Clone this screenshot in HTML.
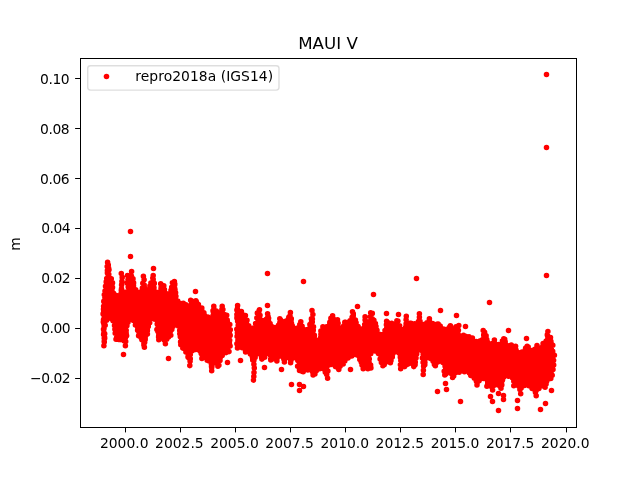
<!DOCTYPE html>
<html><head><meta charset="utf-8"><title>MAUI V</title>
<style>html,body{margin:0;padding:0;background:#fff;overflow:hidden}svg{display:block}</style></head>
<body>
<svg width="640" height="480" viewBox="0 0 640 480">
<rect width="640" height="480" fill="#fff"/>
<rect x="125.0" y="427" width="1" height="5.4" fill="#000"/>
<text x="124.25" y="447.5" font-size="13.889" text-anchor="middle" font-family="DejaVu Sans, Liberation Sans, sans-serif">2000.0</text>
<rect x="180.0" y="427" width="1" height="5.4" fill="#000"/>
<text x="179.38" y="447.5" font-size="13.889" text-anchor="middle" font-family="DejaVu Sans, Liberation Sans, sans-serif">2002.5</text>
<rect x="235.0" y="427" width="1" height="5.4" fill="#000"/>
<text x="234.51" y="447.5" font-size="13.889" text-anchor="middle" font-family="DejaVu Sans, Liberation Sans, sans-serif">2005.0</text>
<rect x="290.0" y="427" width="1" height="5.4" fill="#000"/>
<text x="289.64" y="447.5" font-size="13.889" text-anchor="middle" font-family="DejaVu Sans, Liberation Sans, sans-serif">2007.5</text>
<rect x="345.0" y="427" width="1" height="5.4" fill="#000"/>
<text x="344.77" y="447.5" font-size="13.889" text-anchor="middle" font-family="DejaVu Sans, Liberation Sans, sans-serif">2010.0</text>
<rect x="400.0" y="427" width="1" height="5.4" fill="#000"/>
<text x="399.90" y="447.5" font-size="13.889" text-anchor="middle" font-family="DejaVu Sans, Liberation Sans, sans-serif">2012.5</text>
<rect x="455.0" y="427" width="1" height="5.4" fill="#000"/>
<text x="455.03" y="447.5" font-size="13.889" text-anchor="middle" font-family="DejaVu Sans, Liberation Sans, sans-serif">2015.0</text>
<rect x="510.0" y="427" width="1" height="5.4" fill="#000"/>
<text x="510.16" y="447.5" font-size="13.889" text-anchor="middle" font-family="DejaVu Sans, Liberation Sans, sans-serif">2017.5</text>
<rect x="566.0" y="427" width="1" height="5.4" fill="#000"/>
<text x="565.29" y="447.5" font-size="13.889" text-anchor="middle" font-family="DejaVu Sans, Liberation Sans, sans-serif">2020.0</text>
<rect x="75.1" y="78.0" width="5.4" height="1" fill="#000"/>
<text x="69.20" y="84.10" font-size="13.889" letter-spacing="-0.45" text-anchor="end" font-family="DejaVu Sans, Liberation Sans, sans-serif">0.10</text>
<rect x="75.1" y="128.0" width="5.4" height="1" fill="#000"/>
<text x="69.20" y="134.10" font-size="13.889" letter-spacing="-0.45" text-anchor="end" font-family="DejaVu Sans, Liberation Sans, sans-serif">0.08</text>
<rect x="75.1" y="178.0" width="5.4" height="1" fill="#000"/>
<text x="69.20" y="184.10" font-size="13.889" letter-spacing="-0.45" text-anchor="end" font-family="DejaVu Sans, Liberation Sans, sans-serif">0.06</text>
<rect x="75.1" y="228.0" width="5.4" height="1" fill="#000"/>
<text x="70.25" y="233.10" font-size="13.889" letter-spacing="-0.45" text-anchor="end" font-family="DejaVu Sans, Liberation Sans, sans-serif">0.04</text>
<rect x="75.1" y="278.0" width="5.4" height="1" fill="#000"/>
<text x="70.25" y="283.10" font-size="13.889" letter-spacing="-0.45" text-anchor="end" font-family="DejaVu Sans, Liberation Sans, sans-serif">0.02</text>
<rect x="75.1" y="328.0" width="5.4" height="1" fill="#000"/>
<text x="70.25" y="333.10" font-size="13.889" letter-spacing="-0.45" text-anchor="end" font-family="DejaVu Sans, Liberation Sans, sans-serif">0.00</text>
<rect x="75.1" y="378.0" width="5.4" height="1" fill="#000"/>
<text x="70.25" y="383.10" font-size="13.889" letter-spacing="-0.45" text-anchor="end" font-family="DejaVu Sans, Liberation Sans, sans-serif">−0.02</text>
<text transform="translate(19.5,244.0) rotate(-90)" font-size="13.889" text-anchor="middle" font-family="DejaVu Sans, Liberation Sans, sans-serif">m</text>
<text x="328" y="49.3" font-size="16.667" text-anchor="middle" font-family="DejaVu Sans, Liberation Sans, sans-serif">MAUI V</text>
<g><path d="M105.5 301.7 L105.5 319.4 L108.0 317.2 L109.2 316.7 L110.9 316.7 L112.1 317.2 L113.1 317.9 L115.5 321.4 L116.2 323.5 L116.8 332.8 L117.3 337.7 L117.9 338.3 L122.6 339.4 L124.0 339.9 L125.1 332.7 L125.5 325.0 L126.7 320.4 L127.5 319.0 L128.5 318.2 L129.7 317.7 L131.0 317.6 L132.2 317.9 L134.9 319.2 L136.3 320.8 L138.6 328.5 L139.5 335.6 L140.4 337.4 L143.9 339.3 L145.3 335.7 L148.2 320.0 L148.8 318.9 L150.0 317.8 L151.6 317.3 L152.8 317.3 L154.0 317.6 L155.1 318.3 L156.9 319.9 L157.8 321.3 L160.3 336.5 L161.5 336.4 L162.7 336.6 L163.9 337.2 L164.7 338.1 L168.0 334.8 L170.0 333.4 L171.6 325.8 L172.8 324.0 L174.2 323.1 L175.9 322.8 L177.5 323.3 L178.9 324.3 L180.7 327.2 L181.2 328.7 L181.8 338.3 L182.7 344.2 L183.9 347.2 L185.9 348.5 L186.9 349.7 L188.2 354.1 L188.9 355.7 L189.4 352.4 L190.5 350.7 L193.4 348.1 L195.0 347.6 L196.6 347.8 L201.2 350.3 L201.9 351.2 L204.6 357.0 L206.0 357.1 L207.4 357.9 L208.3 358.8 L209.6 361.2 L211.2 362.1 L212.4 363.5 L213.6 362.4 L215.2 361.7 L216.8 361.7 L218.5 362.4 L219.0 356.9 L220.9 353.8 L221.7 352.9 L225.2 350.6 L227.4 350.1 L227.8 349.4 L229.5 332.2 L227.8 325.8 L227.3 322.1 L226.1 321.1 L225.2 319.7 L224.6 315.0 L224.2 314.5 L222.7 313.8 L221.9 313.2 L220.7 313.8 L219.1 314.0 L214.9 312.5 L214.5 316.5 L213.4 318.3 L212.5 319.1 L211.3 319.5 L210.1 319.6 L208.8 319.3 L205.8 317.7 L203.3 315.2 L201.1 310.2 L198.2 307.1 L196.9 303.4 L195.9 302.3 L194.0 302.0 L193.4 308.6 L192.8 310.2 L191.6 311.4 L190.0 312.0 L188.3 312.0 L187.1 311.6 L185.8 310.5 L185.2 309.4 L184.7 305.3 L181.7 305.1 L178.6 304.3 L177.2 303.5 L176.4 302.6 L175.8 301.0 L173.5 287.0 L172.1 292.7 L171.4 293.8 L170.1 294.8 L168.9 295.2 L167.2 295.1 L166.1 294.7 L165.1 293.9 L164.4 292.9 L163.1 290.2 L163.0 289.0 L163.2 286.6 L162.7 286.1 L162.0 290.9 L161.4 292.5 L159.8 293.8 L158.6 294.2 L157.4 294.2 L155.4 293.5 L154.1 291.9 L153.7 290.7 L152.5 284.1 L150.9 288.9 L150.3 289.9 L149.3 290.8 L147.8 291.4 L146.6 291.4 L145.0 291.0 L143.8 290.0 L143.4 291.7 L142.1 293.4 L140.6 294.1 L138.5 294.2 L137.4 293.7 L135.7 292.5 L134.4 291.0 L132.2 285.6 L131.6 279.6 L130.2 277.8 L129.9 290.5 L129.1 292.5 L127.5 293.9 L125.8 294.3 L124.1 294.0 L122.4 293.0 L121.9 294.9 L120.8 296.1 L119.0 297.0 L117.4 297.0 L114.0 295.5 L113.1 294.7 L112.4 293.7 L109.8 279.5 L109.3 278.7 L108.8 280.8 L107.3 282.5 L105.9 299.7 L105.5 301.7Z" fill="#f00"/>
<path d="M239.0 326.8 L240.0 328.0 L240.4 329.2 L241.2 336.9 L243.0 346.4 L243.5 347.4 L245.1 348.4 L246.0 349.6 L247.3 349.2 L248.6 349.2 L249.8 349.6 L250.8 350.3 L251.8 351.7 L253.5 356.1 L254.6 354.0 L255.4 353.0 L256.4 352.4 L258.0 352.0 L259.6 352.2 L261.0 353.0 L261.8 354.0 L262.9 356.1 L264.1 353.7 L265.3 352.6 L267.2 352.0 L268.9 352.2 L270.0 352.7 L271.1 353.9 L271.7 355.0 L272.0 356.8 L274.1 356.8 L275.9 357.6 L277.7 355.1 L279.5 354.0 L280.7 353.8 L282.0 354.0 L283.1 354.6 L284.2 355.6 L285.1 354.7 L286.2 354.1 L287.5 353.8 L288.7 354.0 L289.9 354.5 L290.8 355.3 L291.5 356.3 L291.9 357.7 L293.5 356.8 L295.2 356.7 L296.8 357.2 L298.3 358.6 L298.9 360.1 L300.1 369.7 L302.8 370.2 L307.4 368.1 L309.5 368.0 L310.8 368.4 L311.8 369.1 L313.9 372.0 L317.1 368.2 L318.5 367.3 L320.6 367.0 L324.7 368.3 L328.2 363.7 L329.1 362.9 L330.3 362.4 L332.4 362.4 L335.1 363.7 L336.4 364.7 L337.4 366.3 L338.3 366.7 L341.1 363.8 L344.6 358.6 L345.5 357.6 L348.9 355.3 L352.0 353.9 L353.3 353.5 L356.9 354.0 L358.0 354.5 L358.9 355.4 L359.6 356.4 L360.4 358.6 L363.2 361.7 L364.3 366.4 L365.8 366.0 L367.0 366.1 L369.4 367.3 L369.6 367.0 L368.5 364.0 L367.4 359.0 L367.4 357.2 L368.6 353.6 L369.3 352.6 L372.0 349.9 L374.0 349.2 L375.2 349.2 L376.4 349.6 L378.6 350.7 L379.8 351.9 L380.5 353.3 L382.3 361.4 L383.1 363.0 L384.1 361.5 L385.6 360.6 L387.3 360.4 L388.8 360.8 L391.3 353.3 L393.7 350.7 L394.7 350.0 L396.0 349.7 L397.2 349.8 L398.4 350.2 L399.7 351.3 L401.8 354.6 L403.9 363.6 L404.0 365.2 L405.5 364.8 L407.3 362.3 L409.2 361.4 L411.2 361.5 L413.7 362.7 L415.3 353.3 L416.5 349.8 L417.2 348.7 L418.1 347.9 L419.3 347.4 L420.6 347.3 L421.8 347.5 L423.0 348.2 L424.3 349.8 L425.5 353.7 L425.9 358.3 L427.9 357.1 L429.1 356.7 L430.7 356.8 L431.9 357.2 L432.9 358.0 L433.6 359.1 L434.7 362.9 L435.0 363.5 L437.3 361.4 L438.4 360.7 L440.1 360.4 L442.1 360.9 L445.6 363.2 L446.6 364.4 L448.0 369.3 L448.0 371.0 L449.4 370.7 L451.0 371.0 L452.0 371.6 L453.1 372.8 L454.1 372.1 L455.4 371.7 L464.2 370.4 L465.9 370.6 L470.0 372.1 L471.0 372.7 L474.2 376.9 L477.6 380.4 L478.6 379.2 L482.1 376.8 L483.7 376.4 L485.3 376.5 L486.8 377.3 L487.9 378.6 L489.7 383.8 L490.8 384.0 L492.3 384.7 L493.0 383.9 L494.1 383.3 L495.3 382.9 L496.5 383.0 L498.4 383.8 L500.5 386.1 L500.7 385.1 L500.1 381.6 L500.6 379.6 L503.9 375.5 L505.4 374.6 L507.1 374.5 L511.2 375.8 L514.8 378.4 L515.8 379.7 L516.1 381.1 L517.8 381.6 L519.1 382.8 L520.7 386.8 L524.4 383.9 L525.6 383.5 L527.3 383.6 L531.6 385.6 L532.5 386.4 L534.2 388.9 L535.4 389.9 L537.6 388.5 L538.2 387.7 L539.5 385.0 L540.6 383.8 L542.5 383.0 L544.5 383.1 L545.3 380.8 L546.0 379.7 L549.8 376.4 L551.2 372.2 L552.1 363.3 L552.6 360.4 L552.1 354.1 L550.2 348.8 L550.3 347.5 L551.1 344.9 L551.1 343.6 L549.9 342.4 L549.4 341.2 L549.3 338.2 L549.2 339.3 L548.6 340.5 L545.3 344.0 L544.1 348.6 L543.4 349.6 L542.4 350.4 L541.2 350.8 L539.5 350.7 L538.3 350.3 L537.1 349.3 L536.3 350.0 L535.2 350.6 L531.9 351.7 L530.3 351.7 L529.1 351.3 L528.1 350.6 L527.3 349.6 L526.8 348.4 L525.9 349.3 L524.0 352.1 L523.0 353.0 L519.8 354.3 L518.1 354.6 L516.4 354.2 L514.8 352.8 L514.1 351.3 L513.7 348.9 L512.7 348.9 L511.5 348.6 L510.4 347.9 L509.6 347.0 L507.8 347.0 L506.0 346.0 L504.9 344.3 L504.4 342.0 L502.9 343.2 L499.6 346.4 L498.1 347.0 L496.5 347.0 L494.6 346.2 L493.8 345.3 L493.3 344.4 L491.9 345.0 L490.7 345.2 L489.4 345.0 L488.3 344.5 L487.4 343.6 L485.0 340.1 L484.5 338.2 L481.1 342.5 L479.6 343.2 L477.5 343.2 L473.2 341.6 L470.5 338.3 L463.5 336.9 L459.5 337.7 L458.3 337.5 L457.2 336.9 L456.1 335.6 L455.5 334.1 L455.5 332.8 L456.4 329.1 L452.8 330.2 L451.5 330.1 L450.2 329.7 L449.3 330.5 L448.2 331.0 L446.1 331.1 L442.7 329.7 L439.4 327.0 L437.7 325.9 L435.5 326.5 L433.9 326.2 L430.4 324.6 L429.1 323.3 L427.4 324.4 L423.3 325.5 L421.2 325.0 L420.2 324.3 L419.4 323.3 L417.9 324.9 L416.0 325.5 L414.3 325.3 L409.5 323.7 L407.8 328.5 L407.2 329.6 L405.9 330.6 L404.0 331.2 L402.0 330.7 L399.7 329.6 L398.8 328.8 L397.9 327.0 L397.4 324.0 L395.9 325.2 L394.2 325.5 L393.0 325.4 L391.2 324.6 L389.0 324.6 L387.9 324.3 L386.6 330.1 L384.6 333.9 L383.0 335.3 L381.0 335.8 L379.4 335.5 L378.0 334.6 L375.7 330.8 L373.2 321.3 L372.1 322.7 L370.6 323.5 L368.2 323.7 L366.5 323.3 L365.4 328.2 L364.8 329.3 L363.3 330.7 L361.3 331.2 L360.0 331.0 L358.9 330.4 L355.9 327.4 L355.3 326.0 L354.1 321.1 L352.7 318.9 L352.1 321.1 L350.9 322.7 L349.0 323.6 L346.7 323.7 L345.9 324.2 L343.8 327.9 L342.5 328.9 L340.9 329.3 L338.9 328.9 L336.2 327.0 L335.2 325.0 L335.2 322.3 L333.4 321.5 L332.1 319.9 L331.1 322.1 L329.7 323.7 L329.1 326.8 L328.2 328.2 L327.3 329.0 L326.1 329.4 L323.9 329.4 L322.3 332.6 L321.4 338.0 L320.6 339.5 L319.0 340.8 L317.4 341.2 L315.8 340.9 L314.7 340.3 L313.8 339.4 L313.2 338.3 L312.1 333.6 L311.2 325.6 L310.7 326.1 L309.1 330.0 L308.2 330.9 L306.8 331.6 L305.1 331.8 L303.2 331.0 L302.1 329.9 L300.8 327.5 L299.8 328.3 L297.2 329.6 L296.0 329.9 L294.4 329.7 L293.0 328.9 L290.0 325.7 L289.5 324.1 L289.1 318.3 L288.4 318.8 L287.2 321.3 L286.1 322.5 L285.0 323.1 L283.8 323.3 L282.5 323.2 L281.4 322.8 L281.0 325.2 L279.8 326.9 L276.6 328.7 L275.0 329.0 L273.8 328.8 L272.7 328.2 L269.9 325.6 L269.1 324.2 L268.3 321.0 L267.9 320.5 L267.1 321.4 L266.0 322.1 L264.8 322.4 L263.1 322.2 L261.3 321.1 L259.0 318.0 L257.0 327.5 L256.2 328.6 L255.3 329.3 L254.1 329.8 L252.8 329.9 L251.2 329.5 L248.3 327.4 L247.7 326.3 L245.8 321.6 L244.4 317.2 L242.8 315.0 L241.2 313.7 L239.0 313.2 L239.0 326.8Z" fill="#f00"/>
<path fill="none" stroke="#f00" stroke-width="5.56" stroke-linecap="round" d="M130.5 256.5h0M153.5 268.5h0M195.5 291.5h0M123.5 354.5h0M168.5 358.5h0M267.5 273.5h0M303.5 281.5h0M267.5 305.5h0M227.5 362.5h0M240.5 360.5h0M264.5 367.5h0M281.5 369.5h0M291.5 384.5h0M299.5 384.5h0M303.5 386.5h0M299.5 390.5h0M416.5 278.5h0M373.5 294.5h0M357.5 306.5h0M440.5 310.5h0M386.5 313.5h0M398.5 314.5h0M350.5 369.5h0M445.5 383.5h0M446.5 389.5h0M437.5 391.5h0M456.5 315.5h0M465.5 326.5h0M508.5 330.5h0M526.5 338.5h0M546.5 275.5h0M489.5 302.5h0M460.5 401.5h0M490.5 396.5h0M492.5 401.5h0M498.5 393.5h0M503.5 395.5h0M503.5 399.5h0M498.5 410.5h0M517.5 400.5h0M517.5 408.5h0M545.5 403.5h0M540.5 409.5h0M551.5 390.5h0M130.5 231.5h0M546.5 74.5h0M546.5 147.5h0M107.6 262.4h0M107.2 266.5h0M107.4 270.6h0M107.9 274.0h0M106.7 278.5h0M107.2 282.1h0M121.3 273.5h0M122.2 277.4h0M121.9 281.4h0M121.6 284.9h0M121.6 289.4h0M121.4 293.8h0M121.6 297.1h0M127.5 275.5h0M128.0 279.7h0M127.1 283.0h0M128.2 287.0h0M127.9 291.5h0M127.9 296.1h0M131.6 271.6h0M131.4 276.0h0M131.5 280.6h0M143.4 276.3h0M144.1 279.7h0M142.8 283.3h0M144.3 287.2h0M143.7 291.0h0M153.2 275.5h0M153.2 279.4h0M152.9 283.5h0M153.3 288.1h0M160.7 283.8h0M161.0 288.4h0M161.3 293.1h0M174.4 281.5h0M174.7 285.1h0M175.0 289.7h0M175.1 293.8h0M174.8 297.4h0M190.7 300.3h0M191.3 304.4h0M190.3 307.8h0M191.3 312.5h0M213.8 306.3h0M213.0 310.7h0M213.6 314.2h0M213.4 318.6h0M222.2 306.3h0M222.9 309.6h0M222.4 313.0h0M103.9 345.7h0M104.3 342.0h0M104.6 337.3h0M103.9 332.6h0M103.5 329.2h0M104.1 325.8h0M103.3 322.0h0M104.1 318.4h0M103.1 313.9h0M103.5 309.3h0M104.6 305.5h0M103.8 301.4h0M125.4 345.7h0M125.7 341.6h0M125.5 337.4h0M126.2 333.4h0M125.3 329.1h0M144.4 347.2h0M143.9 343.5h0M145.2 339.5h0M144.5 336.2h0M158.8 339.7h0M158.7 335.6h0M157.9 331.4h0M159.1 328.1h0M165.4 343.8h0M165.6 339.9h0M165.7 336.1h0M189.8 365.6h0M190.1 361.3h0M188.9 357.9h0M190.1 353.2h0M189.3 349.3h0M201.9 358.5h0M202.1 354.7h0M201.7 351.0h0M211.7 370.7h0M211.5 366.5h0M211.3 362.7h0M217.9 366.2h0M218.4 362.9h0M104.4 302.7h0M103.6 306.3h0M103.7 311.7h0M103.9 314.9h0M103.5 319.9h0M103.8 323.6h0M103.9 329.0h0M103.6 334.5h0M104.2 338.2h0M104.2 341.5h0M104.7 338.2h0M104.7 333.8h0M104.0 328.4h0M105.2 325.3h0M106.6 320.2h0M111.1 318.6h0M113.0 320.8h0M114.5 325.6h0M114.9 329.3h0M115.2 333.3h0M116.0 339.2h0M118.7 339.4h0M124.3 341.0h0M124.8 341.3h0M126.6 335.7h0M126.2 330.5h0M126.9 325.7h0M128.0 322.3h0M129.6 320.0h0M133.5 320.5h0M135.4 325.0h0M137.6 330.3h0M138.6 335.8h0M141.9 339.7h0M144.0 341.6h0M143.9 344.9h0M144.7 342.3h0M145.2 338.2h0M147.4 334.1h0M147.4 330.5h0M148.3 326.4h0M149.7 322.8h0M150.9 318.6h0M154.3 319.1h0M157.2 324.1h0M156.9 329.6h0M158.9 334.1h0M158.6 337.0h0M161.2 337.8h0M164.2 340.1h0M166.7 339.2h0M168.5 337.1h0M170.8 335.3h0M171.8 329.4h0M172.9 326.6h0M175.5 324.6h0M178.6 326.2h0M179.7 330.6h0M179.8 333.8h0M180.3 336.8h0M180.6 341.9h0M180.8 344.8h0M182.8 348.1h0M185.9 352.0h0M188.0 356.9h0M190.3 358.7h0M190.3 354.4h0M192.2 350.7h0M195.8 349.5h0M200.0 350.9h0M201.2 353.6h0M203.5 357.0h0M207.2 360.2h0M211.4 364.0h0M211.7 367.6h0M211.9 366.5h0M215.4 362.7h0M218.9 365.2h0M220.0 360.4h0M220.3 357.5h0M222.2 355.5h0M226.1 352.6h0M229.0 351.6h0M230.1 346.0h0M229.4 343.2h0M229.7 340.2h0M230.2 335.4h0M230.3 329.7h0M229.8 324.5h0M227.2 320.1h0M226.7 315.3h0M222.3 312.2h0M221.9 309.5h0M219.3 312.9h0M216.3 311.0h0M213.9 308.9h0M213.3 311.9h0M213.0 315.7h0M210.5 318.0h0M207.8 317.1h0M203.9 312.9h0M201.8 308.1h0M198.4 304.5h0M195.9 300.8h0M192.8 301.4h0M191.6 307.0h0M191.4 310.0h0M186.5 308.7h0M185.9 304.8h0M183.3 303.3h0M180.0 303.3h0M177.7 301.0h0M175.9 296.3h0M175.6 292.7h0M174.8 288.8h0M174.8 284.1h0M172.4 282.8h0M171.7 287.2h0M171.0 290.3h0M169.5 293.8h0M166.0 293.6h0M164.4 289.5h0M163.8 285.8h0M161.2 286.4h0M160.9 290.6h0M156.4 292.2h0M154.0 287.7h0M154.3 283.4h0M153.1 280.2h0M152.8 278.0h0M150.9 283.0h0M149.9 286.1h0M149.1 289.4h0M143.9 288.4h0M144.2 285.0h0M142.4 288.1h0M140.5 292.0h0M137.6 292.7h0M135.7 289.7h0M133.5 285.6h0M133.6 282.9h0M133.0 278.9h0M131.2 276.1h0M128.5 278.2h0M128.1 282.7h0M128.7 286.2h0M129.0 289.2h0M125.3 292.2h0M121.5 288.9h0M121.3 290.4h0M120.9 294.1h0M116.4 295.5h0M113.5 293.3h0M112.5 287.4h0M112.5 282.9h0M111.3 278.7h0M108.8 274.4h0M109.0 269.8h0M108.3 265.1h0M108.6 268.1h0M107.4 272.9h0M107.3 278.6h0M106.2 281.9h0M105.5 286.3h0M105.0 291.1h0M104.3 294.7h0M104.9 297.6h0M105.5 302.7h0M105.0 305.6h0M105.6 308.6h0M105.2 310.9h0M105.5 313.6h0M105.1 316.5h0M105.3 319.5h0M107.5 318.1h0M110.9 317.5h0M112.9 318.8h0M114.9 320.5h0M115.6 324.0h0M116.0 326.5h0M116.6 330.2h0M116.7 333.9h0M116.8 336.4h0M117.8 338.6h0M121.0 339.6h0M123.8 339.9h0M124.2 338.8h0M124.6 334.8h0M125.4 331.9h0M125.5 328.6h0M125.8 324.4h0M126.3 321.6h0M127.9 318.9h0M131.3 318.4h0M134.9 319.4h0M136.5 322.1h0M137.1 325.2h0M137.8 328.3h0M138.8 331.4h0M139.1 334.5h0M141.0 337.6h0M143.2 338.8h0M145.2 337.9h0M146.0 335.1h0M146.2 332.7h0M147.2 328.8h0M147.5 324.8h0M147.7 322.4h0M148.7 318.9h0M152.1 317.3h0M155.0 318.2h0M157.8 321.3h0M158.3 324.4h0M158.1 327.6h0M158.5 329.9h0M159.0 332.4h0M160.0 335.5h0M162.0 336.8h0M164.9 338.7h0M166.7 336.1h0M169.3 334.6h0M170.5 330.9h0M171.5 328.1h0M172.3 324.9h0M174.5 323.9h0M177.0 323.1h0M178.9 324.8h0M180.0 327.2h0M180.9 329.4h0M180.7 332.0h0M181.0 334.4h0M181.0 337.6h0M181.7 339.8h0M182.4 342.7h0M182.6 345.0h0M183.7 348.0h0M186.6 350.5h0M187.5 352.7h0M188.4 355.0h0M189.6 355.7h0M189.3 353.3h0M190.5 350.7h0M192.7 348.4h0M195.5 348.2h0M198.2 348.5h0M200.9 350.7h0M202.4 352.6h0M204.0 356.4h0M205.5 357.8h0M207.4 358.8h0M208.5 360.7h0M211.7 362.4h0M212.6 363.0h0M215.7 361.7h0M218.3 362.3h0M219.2 360.1h0M219.0 356.5h0M220.9 354.8h0M223.7 352.4h0M226.1 350.7h0M227.7 348.4h0M228.2 345.9h0M228.4 342.2h0M228.7 339.0h0M229.5 336.1h0M229.4 333.4h0M229.5 330.3h0M228.4 327.9h0M227.7 324.6h0M227.4 321.7h0M225.4 320.1h0M225.1 317.8h0M224.3 314.5h0M222.5 313.0h0M218.8 313.8h0M214.9 312.6h0M214.8 314.7h0M213.2 317.9h0M210.7 318.8h0M207.7 318.9h0M205.8 317.3h0M204.4 315.3h0M202.6 312.5h0M201.8 310.3h0M199.1 307.9h0M198.3 305.9h0M196.5 302.1h0M193.6 302.2h0M193.4 306.0h0M192.7 309.7h0M190.8 311.1h0M188.5 312.1h0M186.8 310.4h0M185.4 306.9h0M182.8 304.4h0M179.8 304.1h0M176.5 302.4h0M175.5 299.1h0M175.2 295.1h0M174.6 291.8h0M173.8 289.4h0M173.3 286.1h0M173.2 287.3h0M172.6 290.4h0M171.7 292.5h0M169.4 294.3h0M166.2 294.7h0M164.2 292.3h0M163.6 289.0h0M162.9 286.5h0M162.1 287.6h0M161.6 289.9h0M161.5 292.6h0M158.0 294.3h0M154.4 292.2h0M153.5 288.2h0M152.5 285.3h0M152.6 284.1h0M151.5 287.0h0M150.4 290.0h0M146.5 290.9h0M143.2 289.7h0M143.1 292.2h0M140.8 293.8h0M137.7 293.0h0M134.9 290.9h0M133.7 288.1h0M132.1 284.7h0M132.5 281.9h0M131.7 279.2h0M130.6 277.1h0M130.1 280.2h0M130.2 284.3h0M129.5 288.3h0M129.3 290.7h0M127.8 293.3h0M124.7 293.7h0M121.8 293.4h0M120.6 296.4h0M116.9 296.4h0M114.2 295.7h0M113.1 293.7h0M112.0 290.7h0M112.1 288.2h0M111.0 285.7h0M110.2 282.7h0M109.4 279.2h0M108.7 278.6h0M108.4 280.7h0M106.5 283.1h0M106.3 286.3h0M106.2 289.2h0M106.0 293.0h0M105.5 295.7h0M105.8 298.7h0M106.3 303.5h0M105.7 306.5h0M106.3 310.6h0M106.3 314.1h0M105.9 317.7h0M108.0 317.1h0M111.6 316.1h0M114.6 319.2h0M116.9 322.4h0M117.0 326.5h0M117.1 329.9h0M117.0 332.7h0M118.1 336.5h0M120.2 338.4h0M123.4 339.1h0M124.2 335.5h0M125.0 331.1h0M124.8 327.9h0M124.8 324.6h0M125.8 320.5h0M128.5 318.1h0M131.8 317.2h0M134.9 318.8h0M137.6 321.7h0M138.1 324.3h0M138.9 327.5h0M139.9 331.7h0M139.8 335.6h0M143.0 338.4h0M144.4 335.9h0M145.5 333.0h0M145.9 328.6h0M146.9 325.6h0M147.5 322.6h0M147.5 319.5h0M149.6 317.8h0M152.2 317.1h0M155.6 317.8h0M158.3 321.0h0M158.6 325.2h0M159.8 328.1h0M159.6 330.8h0M160.2 334.2h0M162.4 336.4h0M164.7 336.8h0M166.7 334.9h0M168.9 333.0h0M170.1 329.7h0M171.2 327.1h0M172.8 323.7h0M175.2 322.1h0M178.8 324.0h0M181.4 327.5h0M181.6 330.7h0M182.5 334.0h0M182.0 337.1h0M182.2 339.9h0M183.3 342.9h0M183.5 345.6h0M186.9 348.3h0M188.1 352.7h0M188.6 352.1h0M190.9 349.3h0M193.6 347.9h0M196.6 347.1h0M200.2 349.0h0M202.6 351.4h0M204.0 354.5h0M206.7 357.2h0M209.6 359.4h0M212.0 362.5h0M216.1 360.9h0M218.3 360.8h0M218.7 358.0h0M220.3 354.0h0M223.5 351.5h0M225.4 349.6h0M227.1 347.1h0M227.8 343.3h0M228.6 339.3h0M228.7 335.7h0M228.8 333.0h0M228.4 329.9h0M227.7 326.7h0M226.9 323.6h0M224.4 320.1h0M223.9 315.9h0M221.9 314.3h0M219.2 314.2h0M215.8 313.6h0M215.2 315.9h0M214.1 318.9h0M210.8 320.1h0M207.3 319.4h0M203.9 316.5h0M201.9 313.8h0M201.1 311.3h0M198.2 308.3h0M196.9 305.9h0M195.6 303.3h0M194.1 304.4h0M194.3 308.0h0M192.9 311.2h0M189.3 312.5h0M186.3 311.7h0M184.7 308.9h0M183.7 306.0h0M180.2 305.0h0M177.4 304.2h0M175.6 301.2h0M175.0 298.6h0M174.7 295.6h0M173.4 292.2h0M173.3 290.7h0M171.7 294.6h0M167.5 295.6h0M164.5 293.5h0M162.5 290.8h0M161.0 294.0h0M158.0 294.5h0M154.2 293.2h0M153.5 290.7h0M153.0 287.6h0M151.3 288.6h0M149.7 291.0h0M146.4 291.9h0M143.8 292.4h0M141.1 294.2h0M136.8 294.1h0M134.8 292.4h0M132.6 289.0h0M132.4 286.3h0M131.5 283.0h0M130.9 279.7h0M130.5 282.8h0M130.8 286.5h0M130.3 289.4h0M130.1 292.1h0M128.5 294.2h0M124.9 294.8h0M122.5 294.1h0M120.8 297.1h0M117.3 297.3h0M113.1 295.7h0M111.8 292.5h0M110.7 289.5h0M110.6 286.8h0M110.1 283.1h0M109.1 281.8h0M107.7 285.4h0M107.0 288.3h0M106.9 291.6h0M107.1 294.6h0M106.8 297.5h0M237.6 305.5h0M236.9 310.1h0M237.4 313.7h0M237.0 317.1h0M237.6 320.9h0M238.2 325.4h0M236.8 329.2h0M237.4 332.8h0M237.1 336.4h0M237.9 340.2h0M236.9 343.8h0M237.5 347.9h0M259.5 309.7h0M259.0 313.9h0M259.0 318.2h0M267.6 313.8h0M267.8 317.3h0M268.0 321.2h0M279.8 318.7h0M279.8 322.8h0M280.0 326.7h0M290.4 312.5h0M289.6 316.9h0M291.1 320.9h0M290.6 324.5h0M291.2 328.8h0M300.8 321.8h0M300.2 326.3h0M301.6 330.1h0M312.0 310.6h0M312.9 314.6h0M311.4 318.9h0M311.7 323.2h0M312.2 326.6h0M312.1 331.1h0M322.9 326.9h0M322.8 331.0h0M332.6 315.8h0M333.3 319.8h0M332.6 323.9h0M337.5 319.7h0M338.1 323.3h0M336.8 327.7h0M345.4 322.2h0M345.5 325.9h0M352.5 311.8h0M353.2 316.4h0M352.6 321.1h0M365.1 316.9h0M365.7 321.3h0M364.7 324.6h0M365.4 328.9h0M370.7 312.8h0M370.4 316.8h0M370.8 320.4h0M371.0 324.5h0M386.6 321.2h0M386.4 324.7h0M386.7 328.4h0M396.9 320.7h0M397.3 324.2h0M406.3 316.2h0M406.1 319.7h0M406.1 323.8h0M405.6 327.2h0M406.3 330.8h0M419.4 313.7h0M419.4 317.3h0M418.7 321.3h0M420.2 325.8h0M429.4 318.8h0M429.4 322.6h0M428.6 326.3h0M438.2 324.0h0M437.9 328.6h0M450.4 325.9h0M449.7 330.5h0M456.0 326.8h0M456.0 330.8h0M458.8 325.5h0M458.4 330.2h0M458.2 334.3h0M458.8 337.9h0M463.5 335.3h0M463.0 340.0h0M483.2 330.6h0M483.7 334.9h0M483.9 338.4h0M494.4 340.0h0M494.8 344.3h0M493.9 348.3h0M503.8 338.7h0M504.7 342.4h0M511.3 345.0h0M511.8 348.6h0M515.6 346.2h0M515.9 349.8h0M515.6 353.7h0M527.2 346.2h0M527.9 350.5h0M537.0 345.6h0M537.0 349.9h0M547.9 331.5h0M547.7 336.0h0M547.4 340.0h0M548.0 343.9h0M245.6 352.0h0M244.8 348.4h0M253.5 380.1h0M253.8 376.5h0M254.0 372.5h0M254.3 368.0h0M253.9 364.2h0M252.7 360.1h0M253.9 355.5h0M261.9 359.1h0M261.4 355.6h0M262.8 351.2h0M270.8 360.0h0M270.7 355.7h0M270.1 351.6h0M276.9 361.0h0M277.2 356.8h0M276.3 353.3h0M284.4 361.9h0M284.7 357.4h0M283.8 354.1h0M290.6 362.8h0M289.9 358.4h0M290.4 354.5h0M303.2 371.8h0M304.1 367.7h0M313.1 375.0h0M312.7 370.8h0M327.6 378.2h0M326.7 374.5h0M327.9 371.0h0M326.7 367.0h0M327.3 362.3h0M338.8 369.4h0M338.1 365.0h0M363.2 368.8h0M363.0 364.4h0M363.1 360.2h0M367.9 368.8h0M367.6 365.2h0M382.9 365.7h0M382.8 361.2h0M390.4 362.8h0M390.1 359.2h0M390.2 355.8h0M400.7 368.8h0M400.4 364.7h0M400.8 360.6h0M400.3 357.3h0M399.8 353.5h0M400.1 349.4h0M413.8 366.6h0M413.4 362.2h0M423.2 374.5h0M423.4 370.2h0M423.6 366.2h0M423.1 362.5h0M422.4 358.1h0M423.2 354.6h0M424.0 350.5h0M423.4 346.6h0M435.4 365.7h0M434.7 361.0h0M444.8 375.0h0M444.2 371.2h0M445.6 367.7h0M444.7 363.8h0M444.3 359.2h0M452.6 377.5h0M452.5 374.2h0M452.6 370.8h0M477.0 385.0h0M477.4 380.5h0M486.9 386.3h0M487.7 382.9h0M487.3 379.2h0M486.9 375.5h0M492.6 390.0h0M492.2 386.5h0M492.8 383.1h0M501.0 388.2h0M501.8 384.8h0M501.8 381.2h0M500.3 376.9h0M513.8 385.7h0M513.8 381.3h0M513.8 377.2h0M520.7 393.8h0M519.9 389.5h0M520.7 384.9h0M536.2 395.7h0M535.4 392.3h0M536.6 387.7h0M545.1 387.2h0M544.9 382.9h0M238.3 328.3h0M239.4 332.2h0M239.3 335.0h0M240.0 340.0h0M240.8 344.2h0M242.2 347.7h0M245.5 351.0h0M248.8 351.3h0M250.4 354.1h0M252.4 357.0h0M253.9 360.2h0M255.1 357.4h0M256.2 354.4h0M259.6 353.2h0M261.6 357.5h0M264.7 357.3h0M267.3 353.1h0M270.5 355.4h0M270.7 359.3h0M273.7 358.6h0M277.0 358.4h0M280.7 355.9h0M283.8 359.0h0M284.7 359.1h0M286.6 356.0h0M290.1 356.4h0M290.8 360.8h0M293.1 358.1h0M297.8 360.4h0M297.6 366.3h0M299.5 370.5h0M302.4 371.5h0M307.8 369.9h0M312.5 371.7h0M314.9 373.9h0M316.3 370.7h0M319.7 368.8h0M323.9 369.0h0M325.3 372.3h0M326.2 369.2h0M327.8 365.5h0M331.0 364.4h0M335.4 366.6h0M338.4 368.0h0M340.1 366.2h0M343.2 363.9h0M344.8 361.0h0M348.0 357.9h0M351.8 356.0h0M357.2 355.1h0M359.8 359.5h0M361.2 362.1h0M362.0 365.0h0M366.0 367.0h0M370.9 367.9h0M370.6 365.1h0M369.1 362.6h0M369.3 359.0h0M370.7 353.8h0M375.0 351.0h0M378.4 353.6h0M380.1 359.0h0M381.4 362.5h0M384.2 364.8h0M385.6 362.2h0M388.4 361.6h0M391.0 360.6h0M392.3 357.0h0M393.0 353.4h0M396.2 351.5h0M399.0 353.0h0M400.9 357.8h0M402.1 362.9h0M402.0 365.8h0M404.7 366.6h0M407.6 364.3h0M412.3 363.8h0M415.1 364.8h0M415.3 362.2h0M416.0 358.0h0M416.7 353.9h0M418.9 349.7h0M422.7 351.4h0M423.8 356.7h0M424.3 362.0h0M424.8 364.8h0M424.9 362.5h0M428.3 357.8h0M431.1 358.7h0M433.0 360.9h0M434.4 364.6h0M437.7 362.1h0M442.9 362.6h0M445.1 366.3h0M445.9 371.6h0M445.9 374.0h0M449.0 372.0h0M451.2 373.4h0M453.7 376.1h0M455.9 372.5h0M459.2 372.3h0M464.4 371.7h0M469.4 373.1h0M470.8 375.5h0M474.4 378.2h0M476.3 381.0h0M477.1 383.5h0M479.1 380.8h0M483.3 378.5h0M487.3 380.2h0M488.7 385.8h0M491.4 386.5h0M493.8 385.4h0M497.3 384.8h0M501.0 388.2h0M501.8 384.9h0M502.5 379.9h0M503.6 377.2h0M508.5 376.3h0M512.4 377.7h0M514.2 381.2h0M516.0 382.8h0M518.6 386.0h0M521.2 388.1h0M524.4 385.4h0M528.9 385.7h0M532.1 388.5h0M535.3 391.3h0M536.2 390.6h0M538.9 388.5h0M540.6 386.2h0M544.0 384.2h0M546.1 383.9h0M546.8 380.9h0M550.8 378.5h0M552.2 375.3h0M553.0 369.5h0M553.7 365.0h0M553.6 360.2h0M554.4 355.3h0M552.7 351.4h0M551.3 348.9h0M552.8 345.3h0M550.9 341.2h0M550.5 337.5h0M547.3 334.9h0M547.9 337.7h0M546.2 341.0h0M543.1 343.6h0M542.8 346.3h0M542.1 349.3h0M538.3 347.7h0M535.4 349.1h0M532.8 350.2h0M529.0 350.3h0M528.2 347.1h0M525.7 348.1h0M522.0 352.0h0M519.0 352.9h0M516.1 350.4h0M513.0 347.9h0M508.0 345.8h0M505.2 341.9h0M504.7 339.3h0M502.4 341.1h0M498.5 344.6h0M494.8 343.6h0M492.3 343.6h0M487.6 342.2h0M486.8 339.5h0M486.1 335.9h0M484.6 332.2h0M483.9 337.5h0M480.3 340.9h0M476.2 341.6h0M472.4 338.0h0M469.0 336.7h0M465.6 336.4h0M463.2 335.6h0M459.2 335.7h0M457.1 332.6h0M457.4 326.8h0M454.6 328.6h0M449.2 327.5h0M445.1 329.6h0M440.2 326.1h0M436.8 324.2h0M432.6 323.5h0M429.3 320.1h0M426.9 322.7h0M423.5 324.6h0M420.0 321.2h0M418.3 321.9h0M414.6 323.8h0M411.0 323.3h0M407.8 324.6h0M406.1 327.7h0M402.0 329.6h0M399.6 325.8h0M397.9 321.0h0M395.6 323.7h0M391.7 323.4h0M387.5 322.2h0M386.4 324.8h0M385.0 330.5h0M382.4 334.5h0M379.4 334.3h0M377.0 330.2h0M376.0 326.6h0M375.4 323.6h0M373.9 320.4h0M372.2 318.9h0M369.0 322.0h0M365.1 320.1h0M364.9 325.5h0M361.9 329.0h0M358.1 326.6h0M356.1 322.8h0M355.4 320.1h0M353.3 315.1h0M353.3 313.9h0M352.1 317.4h0M350.0 320.7h0M344.8 322.4h0M343.7 326.0h0M341.2 327.8h0M336.6 325.1h0M336.4 321.2h0M333.1 318.5h0M330.9 318.3h0M329.8 322.4h0M326.6 326.7h0M324.2 327.5h0M320.9 331.1h0M320.9 334.4h0M320.6 337.7h0M316.7 340.2h0M314.4 335.4h0M313.3 330.3h0M313.5 326.9h0M312.3 322.0h0M312.4 319.0h0M311.5 322.2h0M309.9 324.5h0M307.5 329.5h0M304.8 329.8h0M302.1 326.2h0M299.8 324.5h0M296.7 328.4h0M292.3 325.9h0M291.5 323.5h0M291.3 318.8h0M290.0 315.9h0M288.8 317.3h0M285.4 321.2h0M280.6 320.0h0M279.8 322.9h0M278.7 325.1h0M276.2 327.2h0M272.9 327.3h0M270.1 323.5h0M268.6 318.2h0M268.0 316.2h0M266.3 319.2h0M261.8 320.3h0M260.0 315.3h0M259.2 310.2h0M257.3 313.1h0M256.8 318.0h0M255.6 323.6h0M253.5 328.0h0M248.7 325.9h0M247.0 320.3h0M245.4 315.6h0M241.4 311.6h0M237.4 308.8h0M238.1 310.9h0M236.9 314.6h0M236.9 318.1h0M237.8 321.6h0M372.3 313.4h0M239.6 328.0h0M240.0 330.6h0M240.3 333.9h0M240.9 337.5h0M241.8 340.8h0M242.0 344.2h0M243.0 346.7h0M244.9 348.4h0M248.0 349.6h0M251.5 351.5h0M252.8 355.4h0M254.3 354.7h0M256.1 352.8h0M259.4 352.5h0M262.3 354.6h0M263.3 355.3h0M264.7 353.2h0M268.1 351.9h0M269.8 353.4h0M271.6 356.8h0M275.0 357.3h0M277.0 356.6h0M279.2 353.9h0M282.6 354.3h0M284.2 355.7h0M287.3 353.9h0M290.4 355.9h0M292.7 357.4h0M295.3 357.0h0M297.3 358.2h0M299.0 361.5h0M298.9 365.5h0M299.3 367.9h0M300.9 369.9h0M303.5 370.0h0M306.8 369.0h0M310.1 368.9h0M312.4 371.0h0M314.0 372.4h0M315.9 369.8h0M317.9 367.4h0M321.6 367.9h0M324.0 367.9h0M326.2 367.4h0M327.3 365.0h0M329.2 363.3h0M332.5 362.9h0M335.9 364.0h0M338.2 366.9h0M340.8 364.8h0M342.6 361.8h0M344.6 359.1h0M347.5 357.0h0M350.3 354.5h0M352.6 354.2h0M356.5 354.7h0M359.5 356.7h0M360.3 358.8h0M362.0 360.2h0M363.7 362.7h0M364.2 367.0h0M366.9 366.8h0M370.3 366.8h0M369.4 364.6h0M368.4 360.9h0M367.7 358.1h0M368.6 355.0h0M370.8 351.7h0M373.0 349.3h0M375.6 350.0h0M379.0 351.7h0M380.9 355.1h0M381.1 358.1h0M382.1 360.3h0M382.7 363.3h0M384.3 362.1h0M387.7 361.1h0M389.6 359.2h0M390.7 356.1h0M391.9 353.5h0M394.1 350.2h0M397.4 350.4h0M400.1 353.0h0M401.8 355.0h0M402.5 358.8h0M403.4 361.1h0M403.4 363.7h0M405.5 364.8h0M408.3 362.6h0M411.8 362.1h0M413.6 362.8h0M415.0 359.4h0M414.7 356.2h0M415.8 353.5h0M416.8 349.9h0M420.1 347.2h0M423.7 349.0h0M424.7 351.4h0M425.3 354.7h0M425.4 358.1h0M426.8 357.6h0M429.8 357.4h0M433.2 359.0h0M434.1 362.4h0M435.7 363.6h0M438.6 361.2h0M442.2 361.6h0M445.4 363.9h0M446.6 366.5h0M447.6 368.8h0M447.9 371.3h0M450.5 371.4h0M453.1 372.6h0M454.6 372.3h0M458.4 371.5h0M461.0 370.6h0M463.5 371.1h0M465.6 370.9h0M469.3 372.3h0M471.8 373.6h0M472.5 375.9h0M474.9 378.6h0M477.0 380.9h0M479.3 378.6h0M482.2 377.4h0M485.5 376.7h0M487.1 378.3h0M488.4 380.9h0M489.4 383.5h0M491.6 384.2h0M493.7 384.1h0M495.8 383.6h0M498.5 383.8h0M500.2 386.4h0M500.2 383.1h0M501.2 379.6h0M502.8 377.2h0M504.7 375.4h0M507.1 375.1h0M510.8 375.8h0M513.3 377.6h0M515.7 380.0h0M516.9 381.2h0M519.0 383.5h0M520.4 387.1h0M523.1 385.8h0M525.4 383.9h0M528.1 384.6h0M531.1 385.9h0M533.6 388.6h0M535.3 389.9h0M538.4 388.6h0M539.8 386.1h0M541.1 383.3h0M544.7 382.9h0M545.9 380.7h0M547.6 378.8h0M550.5 376.6h0M551.2 373.4h0M551.4 369.9h0M551.9 367.0h0M552.3 364.2h0M553.2 360.9h0M552.7 357.6h0M552.7 355.0h0M551.5 351.3h0M550.7 348.9h0M551.2 345.8h0M551.1 343.0h0M549.6 340.9h0M549.3 337.5h0M548.0 340.5h0M545.5 343.9h0M544.7 346.0h0M543.4 348.5h0M540.4 350.9h0M537.2 349.0h0M533.7 350.8h0M530.2 351.6h0M527.0 349.2h0M525.5 348.8h0M524.0 351.8h0M521.7 353.7h0M517.8 354.4h0M514.9 352.8h0M513.9 350.3h0M513.2 349.1h0M510.4 347.2h0M507.9 346.8h0M505.3 345.0h0M504.4 342.6h0M503.0 342.7h0M500.5 345.3h0M497.8 346.5h0M495.2 345.6h0M493.6 344.1h0M491.1 344.5h0M487.8 343.5h0M485.8 340.9h0M485.0 337.4h0M482.4 339.7h0M480.0 342.5h0M476.8 342.5h0M473.4 341.2h0M471.3 338.6h0M467.6 337.8h0M465.1 337.3h0M461.1 336.9h0M458.5 337.7h0M456.3 334.3h0M455.9 330.6h0M456.3 329.1h0M453.6 330.0h0M450.4 329.4h0M448.5 330.7h0M445.0 330.1h0M443.1 329.1h0M440.4 328.1h0M437.8 326.0h0M434.3 325.6h0M431.2 325.1h0M428.8 323.8h0M425.1 325.0h0M421.2 325.2h0M418.9 322.6h0M417.2 324.4h0M414.7 325.2h0M412.2 324.0h0M409.9 323.4h0M408.4 325.8h0M406.5 329.2h0M404.5 330.4h0M400.6 329.8h0M398.0 327.4h0M397.4 325.2h0M397.0 324.1h0M394.3 325.5h0M391.7 324.2h0M388.9 324.5h0M387.0 325.6h0M386.7 328.5h0M385.8 331.3h0M383.7 334.6h0M380.2 335.2h0M376.8 333.2h0M376.2 329.9h0M374.9 327.8h0M374.1 324.0h0M373.4 320.8h0M372.3 322.2h0M368.4 323.1h0M366.4 324.2h0M365.1 327.5h0M364.2 330.0h0M360.1 331.1h0M357.6 329.2h0M355.7 325.9h0M354.8 322.3h0M354.2 319.7h0M352.5 319.5h0M351.2 321.3h0M349.2 322.9h0M345.5 323.7h0M344.3 326.9h0M342.2 329.1h0M339.1 328.7h0M336.3 326.5h0M334.9 324.2h0M334.0 321.6h0M332.2 319.2h0M330.6 321.4h0M329.7 324.5h0M329.2 327.0h0M327.0 329.3h0M323.3 329.4h0M322.7 332.0h0M321.7 336.0h0M320.6 339.1h0M317.4 341.2h0M314.2 339.1h0M312.4 335.7h0M312.7 332.2h0M311.8 329.7h0M311.2 326.7h0M310.5 326.2h0M309.5 328.6h0M307.3 331.6h0M303.5 330.6h0M301.1 328.4h0M299.9 327.3h0M298.1 329.1h0M295.2 329.8h0M291.8 327.8h0M290.3 326.0h0M289.5 322.3h0M289.1 318.4h0M287.9 319.9h0M285.5 322.1h0M282.9 323.4h0M281.0 323.2h0M279.7 326.9h0M276.2 328.5h0M273.3 327.8h0M271.4 326.2h0M269.3 323.8h0M268.6 321.5h0M267.5 320.4h0M265.8 321.8h0M263.2 322.4h0M260.8 320.5h0M259.4 317.7h0M258.0 319.6h0M257.8 322.8h0M257.1 327.0h0M255.6 328.7h0M251.6 329.7h0M249.4 327.6h0M247.5 325.7h0M246.4 323.4h0M245.6 320.7h0M244.9 317.1h0M242.7 314.7h0M240.5 313.3h0M239.2 314.3h0M238.4 317.1h0M238.8 320.3h0M239.1 323.5h0M238.7 326.1h0M239.8 326.8h0M240.9 329.9h0M241.8 333.9h0M241.8 338.4h0M243.0 341.4h0M242.8 344.2h0M244.0 346.5h0M246.3 349.0h0M249.0 348.5h0M252.4 351.5h0M253.8 354.3h0M256.0 352.3h0M258.8 351.8h0M261.4 353.2h0M262.7 354.6h0M265.8 351.5h0M269.0 351.7h0M271.9 353.8h0M273.1 356.2h0M276.0 356.1h0M278.5 354.3h0M281.6 353.1h0M284.0 354.6h0M286.4 353.7h0M289.8 354.2h0M292.2 356.5h0M295.0 356.0h0M298.4 358.2h0M299.9 361.9h0M300.1 365.6h0M300.4 369.0h0M304.2 369.3h0M307.6 367.4h0M311.1 367.6h0M313.2 370.0h0M315.3 369.4h0M317.2 367.3h0M319.8 366.5h0M323.2 367.1h0M325.8 365.3h0M327.7 362.9h0M331.0 361.8h0M333.7 362.1h0M336.0 363.9h0M338.3 366.2h0M340.4 364.0h0M342.5 361.1h0M344.4 357.5h0M348.2 355.3h0M351.6 353.3h0M355.5 353.3h0M358.4 353.9h0M360.3 357.2h0M362.3 360.4h0M364.6 363.7h0M367.0 366.0h0M368.0 364.8h0M367.4 362.1h0M367.2 359.2h0M367.2 356.7h0M368.5 352.7h0M371.1 349.5h0M373.8 348.4h0M378.0 349.7h0M380.1 351.9h0M381.3 355.0h0M382.2 357.9h0M382.8 361.7h0M385.0 360.4h0M388.5 359.9h0M389.5 356.3h0M391.2 352.6h0M394.0 349.7h0M397.0 349.5h0M400.0 350.7h0M402.0 354.2h0M402.7 357.6h0M403.8 361.2h0M404.9 364.2h0M406.4 362.0h0M409.0 360.6h0M413.6 361.9h0M414.1 358.9h0M414.4 354.6h0M415.5 350.3h0M417.4 347.5h0M420.5 346.9h0M423.7 347.9h0M425.2 350.7h0M426.3 354.2h0M426.5 357.4h0M429.8 356.2h0M433.1 357.9h0M434.2 360.4h0M435.5 362.1h0M438.6 360.0h0M442.9 360.5h0M445.2 362.7h0M447.3 365.3h0M448.0 368.9h0M450.4 370.1h0M452.7 372.0h0M456.6 371.3h0M460.8 370.3h0M465.1 369.9h0M468.3 371.1h0M471.0 371.7h0M472.5 374.3h0M475.6 377.4h0M477.9 378.7h0M481.4 376.9h0M484.2 375.7h0M487.5 377.5h0M489.0 380.1h0M490.0 382.5h0M492.8 383.8h0M496.1 382.3h0M498.5 383.4h0M499.9 383.3h0M500.3 379.6h0M502.7 375.8h0M505.9 374.4h0M508.8 374.9h0M511.9 375.9h0M514.4 377.6h0M516.1 379.7h0M518.5 381.9h0M520.8 384.7h0M522.8 384.0h0M525.4 382.9h0M528.5 383.1h0M531.6 384.8h0M533.9 388.1h0M535.9 388.5h0M538.7 385.7h0M540.3 383.9h0M543.8 382.3h0M545.1 379.7h0M548.6 377.4h0M549.8 373.5h0M550.6 369.5h0M551.2 366.1h0M551.3 363.4h0M552.1 359.7h0M552.1 357.1h0M551.1 353.9h0M549.9 350.7h0M549.9 347.8h0M550.7 345.0h0M549.0 341.4h0M547.0 343.1h0M545.7 345.9h0M544.3 349.7h0M541.3 351.2h0M537.8 351.1h0M534.3 351.5h0M530.9 351.9h0M527.2 350.5h0M525.2 350.8h0M523.2 353.6h0M520.3 354.4h0M516.9 354.9h0M515.1 353.4h0M513.3 350.7h0M511.5 348.8h0M508.9 347.3h0M505.5 345.9h0M503.1 343.5h0M500.9 345.4h0M498.3 347.5h0M494.4 346.8h0M491.6 345.3h0M487.8 344.5h0M486.0 342.1h0M484.1 339.8h0M481.9 342.1h0M480.0 343.7h0M476.3 343.0h0M473.3 342.5h0M471.0 339.3h0M466.6 338.4h0M462.8 337.5h0M458.5 338.0h0M455.2 336.0h0M455.5 331.8h0M454.9 329.8h0M452.3 331.0h0M449.1 331.2h0M445.9 331.5h0M442.7 330.5h0M440.0 328.5h0M436.7 327.1h0M432.9 326.0h0M429.6 325.0h0M427.1 325.0h0M424.3 326.2h0M421.2 325.5h0M417.9 325.1h0M415.6 326.0h0M412.4 324.9h0M409.7 324.8h0M408.5 329.0h0M405.2 331.1h0M402.1 331.3h0M399.7 330.4h0M397.5 328.1h0M396.3 325.3h0M393.3 325.9h0M390.5 324.7h0M387.8 326.0h0M387.6 329.0h0M385.8 332.6h0M384.7 334.9h0M381.9 335.9h0M378.0 335.7h0M376.3 333.0h0M374.7 329.1h0M374.2 325.9h0M373.0 323.6h0M370.5 323.8h0M366.6 324.0h0M365.9 327.9h0M363.7 331.0h0M361.2 331.7h0M358.0 329.8h0M356.1 328.2h0M354.1 324.8h0M353.4 321.5h0M351.8 322.3h0M349.1 324.3h0M346.0 325.0h0M343.8 328.2h0M341.0 329.8h0M337.5 328.8h0M335.4 326.6h0M335.0 323.4h0M332.4 321.5h0M330.1 324.3h0M329.3 327.4h0M327.0 329.5h0M323.4 331.2h0M322.7 334.0h0M322.0 336.4h0M321.2 340.0h0M318.4 341.2h0M314.5 340.3h0M312.5 337.8h0M311.7 333.4h0M311.4 330.5h0M310.7 327.0h0M309.1 330.8h0M305.5 332.1h0M301.9 331.0h0M300.8 328.7h0M297.9 330.0h0M293.7 329.9h0M290.4 327.0h0M288.7 324.1h0M289.1 320.3h0M288.0 320.8h0M285.7 322.9h0M281.8 323.5h0M280.1 327.2h0M277.7 328.7h0M273.6 329.6h0M270.9 327.0h0M268.9 324.3h0M267.6 321.1h0M265.8 323.1h0M261.9 322.0h0M259.2 319.1h0M258.5 323.2h0M257.6 327.0h0M255.8 329.9h0M252.7 330.0h0M250.0 329.7h0M248.1 327.4h0M246.6 324.1h0M244.9 321.2h0M244.2 318.3h0M241.6 315.0h0M239.2 315.6h0M239.6 320.0h0M239.9 322.8h0M239.9 325.6h0"/></g>
<rect x="80.5" y="58.5" width="496" height="369" fill="none" stroke="#000" stroke-width="1"/>
<rect x="87.7" y="65.7" width="191.3" height="24.4" rx="2.8" ry="2.8" fill="#fff" fill-opacity="0.8" stroke="#ccc" stroke-opacity="0.65" stroke-width="1.39"/>
<circle cx="106.5" cy="76.5" r="2.78" fill="#f00"/>
<text x="135.3" y="81.2" font-size="13.889" textLength="137.8" lengthAdjust="spacing" font-family="DejaVu Sans, Liberation Sans, sans-serif">repro2018a (IGS14)</text>
</svg>
</body></html>
